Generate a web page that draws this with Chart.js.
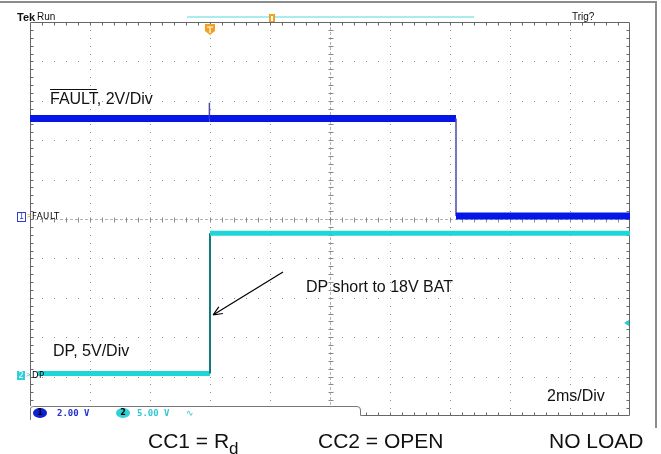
<!DOCTYPE html>
<html lang="en">
<head>
    <meta charset="UTF-8">
    <title>FAULT / DP short to 18V BAT</title>
    <script src="https://cdn.jsdelivr.net/npm/chart.js"></script>
    <style>
        body { margin: 0; background: #fff; font-family: "Liberation Sans", Arial, sans-serif; }
        #wrap { position: relative; width: 661px; height: 454px; overflow: hidden; }
        canvas { position: absolute; left: 0; top: 0; }
        .t { position: absolute; white-space: nowrap; color: #111; }
        .big { font-size: 16px; line-height: 16px; }
        .bottom { font-size: 21px; line-height: 21px; }
        .small { font-size: 10px; line-height: 10px; }
        .lab { font-family: "DejaVu Sans", sans-serif; font-size: 8.5px; line-height: 9px; color: #000; }
        .mono { font-family: "DejaVu Sans Mono", monospace; font-size: 9px; line-height: 9px; font-weight: bold; }
        .oval { position: absolute; width: 14px; height: 10px; border-radius: 50%; font: bold 8px/10px "DejaVu Sans", sans-serif; text-align: center; color: #000; }
        .chbox { position: absolute; width: 8px; height: 9px; font: 8px/9px "DejaVu Sans", sans-serif; text-align: center; }
    </style>
</head>
<body>
<div id="wrap">
    <canvas id="scope" width="661" height="454"></canvas>

    <span class="t small" style="left:17px; top:12px; font-weight:bold; font-size:11px;">Tek</span>
    <span class="t small" style="left:37px; top:12px;">Run</span>
    <span class="t small" style="left:572px; top:12px;">Trig?</span>

    <span class="t big" style="left:50px; top:91px;"><span style="text-decoration: overline;">FAULT</span>, 2V/Div</span>
    <span class="t big" style="left:53px; top:343px;">DP, 5V/Div</span>
    <span class="t big" style="left:306px; top:279px;">DP short to 18V BAT</span>
    <span class="t big" style="left:547px; top:388px;">2ms/Div</span>

    <span class="chbox" style="left:17px; top:212px; border:1px solid #3040d0; color:#3040d0; width:7px; height:8px; line-height:8px;">1</span>
    <span class="t" style="left:27px; top:211px; font-size:8px; color:#a09030;">&gt;</span>
    <span class="t lab" style="left:32px; top:212px; letter-spacing:0.6px;">FAULT</span>
    <span class="chbox" style="left:17px; top:371px; background:#30d0d8; color:#fff;">2</span>
    <span class="t" style="left:26px; top:370px; font-size:8px; color:#30b8c0;">&gt;</span>
    <span class="t lab" style="left:32px; top:371px; letter-spacing:0.4px;">DP</span>

    <span class="oval" style="left:33px; top:408px; background:#1020d8;">1</span>
    <span class="t mono" style="left:57px; top:409px; color:#2030d0;">2.00 V</span>
    <span class="oval" style="left:116px; top:408px; background:#30d0d8;">2</span>
    <span class="t mono" style="left:137px; top:409px; color:#30c8d0;">5.00 V</span>
    <span class="t mono" style="left:186px; top:409px; color:#30c8d0; font-weight:normal;">&#8767;</span>

    <span class="t bottom" style="left:148px; top:430px;">CC1 = R<span style="font-size:17px; position:relative; top:6px;">d</span></span>
    <span class="t bottom" style="left:318px; top:430px;">CC2 = OPEN</span>
    <span class="t bottom" style="left:549px; top:430px;">NO LOAD</span>
</div>

<script>
    // scope settings (divisions: 10 across, 10 down)
    const msPerDiv = 2;
    const faultVoltsPerDiv = 2;
    const faultGroundDiv = 5;
    const dpVoltsPerDiv = 5;
    const dpGroundDiv = 1;

    // channel 1: FAULT (time in ms, volts)
    const faultTime = [0, 5.98, 5.98, 5.98, 14.2, 14.2, 20];
    const faultVolts = [5.1, 5.1, 5.9, 5.1, 5.1, 0.15, 0.15];

    // channel 2: DP (time in ms, volts)
    const dpTime = [0.25, 6.0, 6.0, 20];
    const dpVolts = [0.4, 0.4, 18.2, 18.2];

    function toDivs(times, volts, ground, perDiv) {
        return times.map((t, i) => ({ x: t, y: ground + volts[i] / perDiv }));
    }

    const thinVertical = (wide, thin) => ctx => ctx.p0.parsed.x === ctx.p1.parsed.x ? thin : wide;

    const graticule = {
        id: 'graticule',
        beforeDatasetsDraw(chart) {
            const { ctx, chartArea: a, scales: { x, y } } = chart;
            const dx = (x.getPixelForValue(msPerDiv) - x.getPixelForValue(0)) / 5;
            const dy = (y.getPixelForValue(0) - y.getPixelForValue(1)) / 5;
            const cx = Math.round(x.getPixelForValue(10)) + 0.5;
            const cy = Math.round(y.getPixelForValue(5)) + 0.5;
            ctx.save();
            ctx.fillStyle = '#8c8c8c';
            for (let i = 1; i < 10; i++) {
                if (i === 5) continue;
                const px = Math.round(x.getPixelForValue(i * msPerDiv));
                for (let py = a.top + dy; py < a.bottom - 1; py += dy) ctx.fillRect(px, Math.round(py), 1, 1);
                const py = Math.round(y.getPixelForValue(i));
                for (let px2 = a.left + dx; px2 < a.right - 1; px2 += dx) ctx.fillRect(Math.round(px2), py, 1, 1);
            }
            // centre lines with minor ticks
            ctx.strokeStyle = '#b4b4b4';
            ctx.lineWidth = 1;
            ctx.setLineDash([3, 2]);
            ctx.beginPath();
            ctx.moveTo(a.left, cy); ctx.lineTo(a.right, cy);
            ctx.moveTo(cx, a.top); ctx.lineTo(cx, a.bottom);
            ctx.stroke();
            ctx.setLineDash([]);
            ctx.strokeStyle = '#8a8a8a';
            ctx.beginPath();
            for (let px = a.left + dx; px < a.right - 1; px += dx) {
                const p = Math.round(px) + 0.5;
                ctx.moveTo(p, cy - 2); ctx.lineTo(p, cy + 3);
            }
            for (let py = a.top + dy; py < a.bottom - 1; py += dy) {
                const p = Math.round(py) + 0.5;
                ctx.moveTo(cx - 2, p); ctx.lineTo(cx + 3, p);
            }
            ctx.stroke();
            // border with inward ticks
            const L = Math.round(a.left) + 0.5, R = Math.round(a.right) - 0.5;
            const T = Math.round(a.top) + 0.5, B = Math.round(a.bottom) - 0.5;
            ctx.strokeStyle = '#666';
            ctx.beginPath();
            ctx.moveTo(L, T); ctx.lineTo(R, T); ctx.lineTo(R, B); ctx.lineTo(L, B); ctx.closePath();
            for (let px = a.left + dx; px < a.right - 1; px += dx) {
                const p = Math.round(px) + 0.5;
                ctx.moveTo(p, T); ctx.lineTo(p, T + 3);
                ctx.moveTo(p, B); ctx.lineTo(p, B - 3);
            }
            for (let py = a.top + dy; py < a.bottom - 1; py += dy) {
                const p = Math.round(py) + 0.5;
                ctx.moveTo(L, p); ctx.lineTo(L + 3, p);
                ctx.moveTo(R, p); ctx.lineTo(R - 3, p);
            }
            ctx.stroke();
            ctx.restore();
        },
        afterDatasetsDraw(chart) {
            const { ctx, scales: { x } } = chart;
            ctx.save();
            // outer frame
            ctx.strokeStyle = '#8c8c8c';
            ctx.lineWidth = 2;
            ctx.beginPath();
            ctx.moveTo(0, 2); ctx.lineTo(656, 2); ctx.lineTo(656, 428);
            ctx.stroke();
            // record window bar
            ctx.strokeStyle = '#8ee4e4';
            ctx.lineWidth = 1.5;
            ctx.beginPath();
            ctx.moveTo(187, 17); ctx.lineTo(474, 17);
            ctx.stroke();
            // trigger position markers
            const tx = Math.round(x.getPixelForValue(dpTime[1]));
            ctx.fillStyle = '#f2a020';
            ctx.beginPath();
            ctx.moveTo(tx - 5, 24); ctx.lineTo(tx + 5, 24); ctx.lineTo(tx + 5, 31);
            ctx.lineTo(tx, 35); ctx.lineTo(tx - 5, 31); ctx.closePath();
            ctx.fill();
            ctx.strokeStyle = '#fff';
            ctx.lineWidth = 1.2;
            ctx.beginPath();
            ctx.moveTo(tx - 3, 27); ctx.lineTo(tx + 3, 27);
            ctx.moveTo(tx, 27); ctx.lineTo(tx, 33);
            ctx.stroke();
            ctx.fillStyle = '#f2a020';
            ctx.fillRect(269, 14, 6, 8);
            ctx.fillStyle = '#fff';
            ctx.fillRect(271, 16, 2, 5);
            // trigger level
            ctx.fillStyle = '#20d0d8';
            ctx.beginPath();
            ctx.moveTo(624, 323); ctx.lineTo(629, 320); ctx.lineTo(629, 326); ctx.closePath();
            ctx.fill();
            // readout tab
            ctx.fillStyle = '#fff';
            ctx.fillRect(29, 406, 333, 16);
            ctx.strokeStyle = '#777';
            ctx.lineWidth = 1;
            ctx.beginPath();
            ctx.moveTo(30.5, 420);
            ctx.lineTo(30.5, 409);
            ctx.quadraticCurveTo(30.5, 406.5, 33.5, 406.5);
            ctx.lineTo(357, 406.5);
            ctx.quadraticCurveTo(360.5, 406.5, 360.5, 410);
            ctx.lineTo(360.5, 415.5);
            ctx.lineTo(364, 415.5);
            ctx.stroke();
            // arrow to the DP edge
            const ax0 = 283, ay0 = 272, ax1 = tx + 3, ay1 = 315;
            const ang = Math.atan2(ay1 - ay0, ax1 - ax0);
            ctx.strokeStyle = '#000';
            ctx.lineWidth = 1.2;
            ctx.beginPath();
            ctx.moveTo(ax0, ay0); ctx.lineTo(ax1, ay1);
            ctx.moveTo(ax1, ay1); ctx.lineTo(ax1 - 10 * Math.cos(ang - 0.4), ay1 - 10 * Math.sin(ang - 0.4));
            ctx.moveTo(ax1, ay1); ctx.lineTo(ax1 - 10 * Math.cos(ang + 0.4), ay1 - 10 * Math.sin(ang + 0.4));
            ctx.stroke();
            ctx.restore();
        }
    };

    new Chart(document.getElementById('scope').getContext('2d'), {
        type: 'line',
        data: {
            datasets: [
                {
                    label: 'DP',
                    data: toDivs(dpTime, dpVolts, dpGroundDiv, dpVoltsPerDiv),
                    borderColor: '#1ed6d8',
                    borderWidth: 5,
                    pointRadius: 0,
                    tension: 0,
                    segment: {
                        borderWidth: thinVertical(5, 2),
                        borderColor: thinVertical('#1ed6d8', '#137a7c')
                    }
                },
                {
                    label: 'FAULT',
                    data: toDivs(faultTime, faultVolts, faultGroundDiv, faultVoltsPerDiv),
                    borderColor: '#0616e8',
                    borderWidth: 7,
                    pointRadius: 0,
                    tension: 0,
                    segment: {
                        borderWidth: thinVertical(7, 1.5),
                        borderColor: thinVertical('#0616e8', '#4a4aa8')
                    }
                }
            ]
        },
        options: {
            responsive: false,
            animation: false,
            layout: { padding: { left: 30, right: 31, top: 22, bottom: 38 } },
            plugins: { legend: { display: false }, tooltip: { enabled: false } },
            scales: {
                x: { type: 'linear', min: 0, max: 10 * msPerDiv, display: false },
                y: { type: 'linear', min: 0, max: 10, display: false }
            }
        },
        plugins: [graticule]
    });
</script>
</body>
</html>
